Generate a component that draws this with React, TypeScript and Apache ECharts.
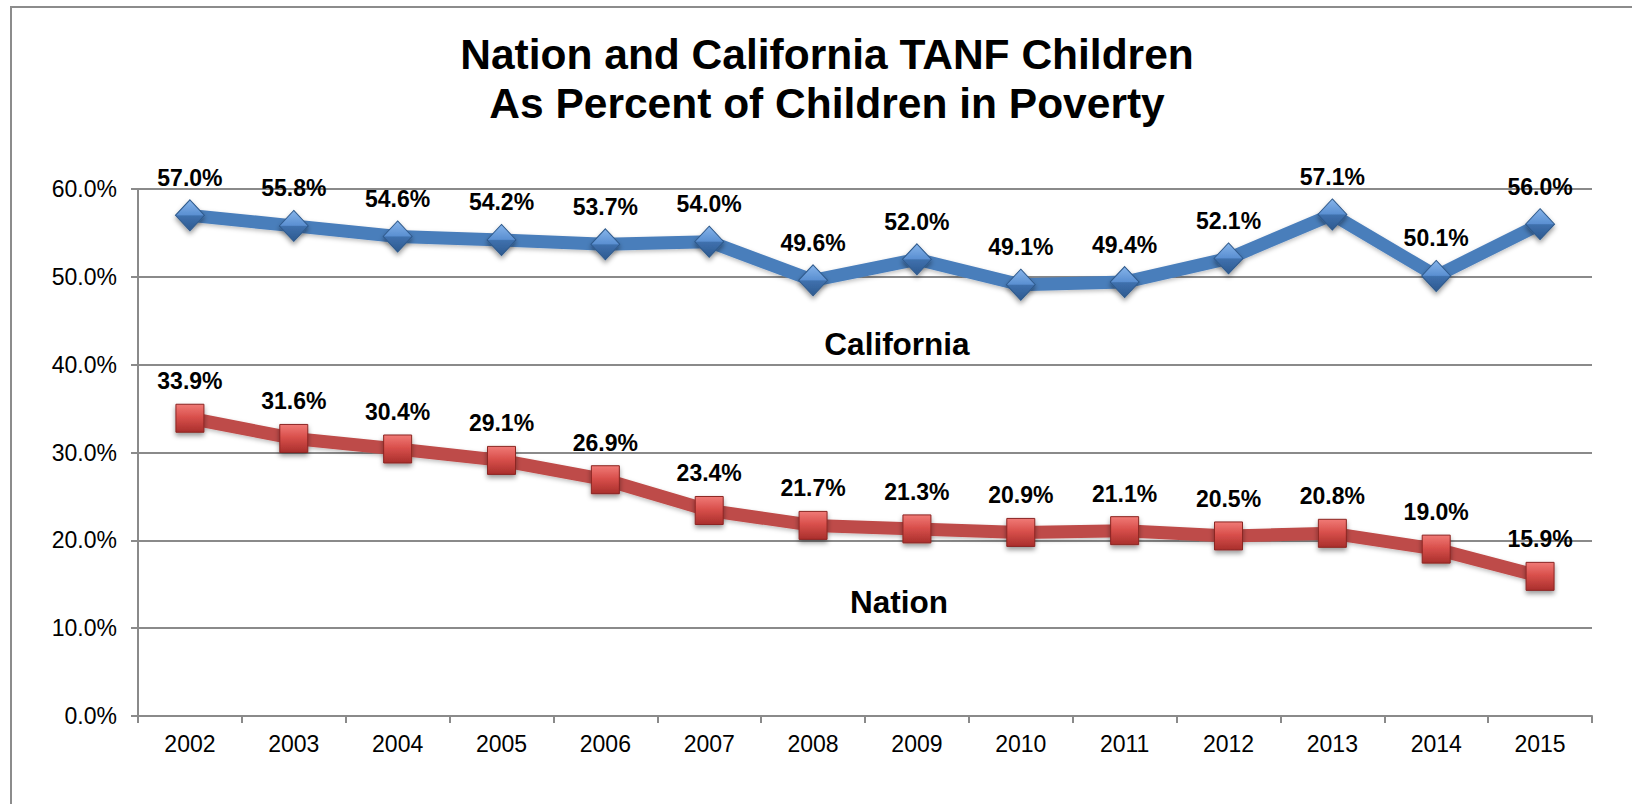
import React, { useEffect, useRef } from "react";
import * as echarts from "echarts";

const years = ["2002", "2003", "2004", "2005", "2006", "2007", "2008", "2009", "2010", "2011", "2012", "2013", "2014", "2015"];
const california = [57.0, 55.8, 54.6, 54.2, 53.7, 54.0, 49.6, 52.0, 49.1, 49.4, 52.1, 57.1, 50.1, 56.0];
const nation = [33.9, 31.6, 30.4, 29.1, 26.9, 23.4, 21.7, 21.3, 20.9, 21.1, 20.5, 20.8, 19.0, 15.9];
const titleLines = ["Nation and California TANF Children", "As Percent of Children in Poverty"];

const FONT = "'Liberation Sans', Arial, Helvetica, sans-serif";
const GRID_COLOR = "#8a8a8a";

export default function App() {
  const ref = useRef<HTMLDivElement>(null);

  useEffect(() => {
    if (!ref.current) return;
    const chart = echarts.init(ref.current, undefined, { renderer: "svg" });
    const pct = (v: number) => `${Number(v).toFixed(1)}%`;

    const blueGrad = new echarts.graphic.LinearGradient(0, 0, 0, 1, [
      { offset: 0, color: "#86b4ea" },
      { offset: 0.48, color: "#5b90d2" },
      { offset: 0.52, color: "#3f70ad" },
      { offset: 1, color: "#2d5a90" },
    ]);
    const redGrad = new echarts.graphic.LinearGradient(0, 0, 0, 1, [
      { offset: 0, color: "#f07a76" },
      { offset: 0.45, color: "#d9504c" },
      { offset: 1, color: "#a92f2c" },
    ]);

    chart.setOption({
      animation: false,
      backgroundColor: "#ffffff",
      textStyle: { fontFamily: FONT },
      title: {
        text: titleLines.join("\n"),
        left: 827,
        top: 30,
        textAlign: "center",
        padding: 0,
        textStyle: {
          fontFamily: FONT,
          fontSize: 42.5,
          fontWeight: "bold",
          color: "#000",
          lineHeight: 49,
        },
      },
      grid: { left: 138, right: 40, top: 189, bottom: 88, containLabel: false },
      xAxis: {
        type: "category",
        data: years,
        boundaryGap: true,
        axisLine: { show: true, lineStyle: { color: GRID_COLOR, width: 2 } },
        axisTick: { show: true, length: 7, interval: 0, lineStyle: { color: GRID_COLOR, width: 2 } },
        axisLabel: { fontSize: 23, color: "#000", margin: 16, interval: 0, fontFamily: FONT },
        splitLine: { show: false },
      },
      yAxis: {
        type: "value",
        min: 0,
        max: 60,
        interval: 10,
        axisLine: { show: true, lineStyle: { color: GRID_COLOR, width: 2 } },
        axisTick: { show: true, length: 7, lineStyle: { color: GRID_COLOR, width: 2 } },
        axisLabel: { fontSize: 23, color: "#000", margin: 21, formatter: (v: number) => pct(v), fontFamily: FONT },
        splitLine: { show: true, lineStyle: { color: GRID_COLOR, width: 2 } },
      },
      series: [
        {
          name: "California",
          type: "line",
          data: california,
          symbol: "diamond",
          symbolSize: [29, 31],
          lineStyle: { color: "#4a7ebb", width: 13, shadowColor: "rgba(0,0,0,0.25)", shadowBlur: 4, shadowOffsetY: 2 },
          itemStyle: {
            color: blueGrad,
            borderColor: "#2f5a8c",
            borderWidth: 1,
            shadowColor: "rgba(0,0,0,0.4)",
            shadowBlur: 5,
            shadowOffsetY: 3,
          },
          label: {
            show: true,
            position: "top",
            distance: 10,
            formatter: (p: any) => pct(p.value),
            fontSize: 23,
            fontWeight: "bold",
            color: "#000",
            fontFamily: FONT,
          },
          z: 3,
        },
        {
          name: "Nation",
          type: "line",
          data: nation,
          symbol: "rect",
          symbolSize: 28,
          lineStyle: { color: "#be4b48", width: 13, shadowColor: "rgba(0,0,0,0.25)", shadowBlur: 4, shadowOffsetY: 2 },
          itemStyle: {
            color: redGrad,
            borderColor: "#8b2522",
            borderWidth: 1,
            shadowColor: "rgba(0,0,0,0.4)",
            shadowBlur: 5,
            shadowOffsetY: 3,
          },
          label: {
            show: true,
            position: "top",
            distance: 11,
            formatter: (p: any) => pct(p.value),
            fontSize: 23,
            fontWeight: "bold",
            color: "#000",
            fontFamily: FONT,
          },
          z: 3,
        },
      ],
      graphic: [
        {
          type: "rect",
          silent: true,
          z: -10,
          shape: { x: 11, y: 7, width: 1700, height: 900 },
          style: { fill: "none", stroke: "#8c8c8c", lineWidth: 2 },
        },
        {
          type: "text",
          silent: true,
          x: 897,
          y: 344,
          style: {
            text: "California",
            font: `bold 31.5px ${FONT}`,
            fill: "#000",
            align: "center",
            verticalAlign: "middle",
            textAlign: "center",
            textVerticalAlign: "middle",
          },
        },
        {
          type: "text",
          silent: true,
          x: 899,
          y: 602,
          style: {
            text: "Nation",
            font: `bold 31.5px ${FONT}`,
            fill: "#000",
            align: "center",
            verticalAlign: "middle",
            textAlign: "center",
            textVerticalAlign: "middle",
          },
        },
      ],
    });

    return () => chart.dispose();
  }, []);

  return (
    <div
      ref={ref}
      style={{ position: "fixed", left: 0, top: 0, width: 1632, height: 804, background: "#fff" }}
    />
  );
}
